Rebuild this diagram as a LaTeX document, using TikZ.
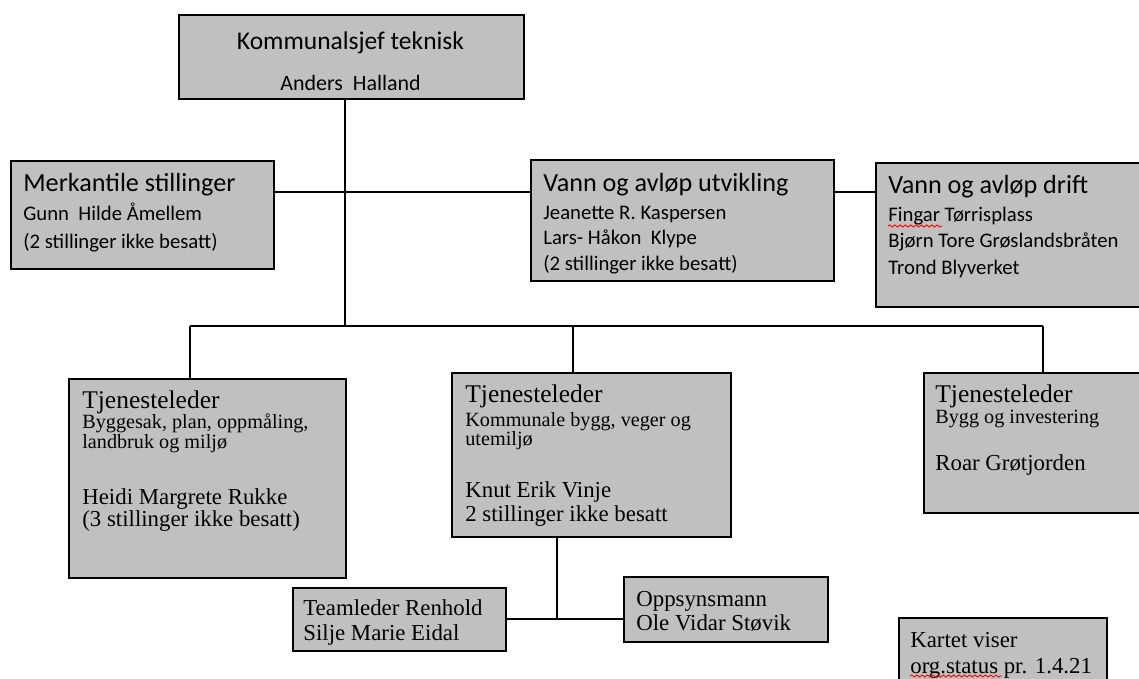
\documentclass[tikz,border=0pt]{standalone}
\usepackage{fontspec}
\setmainfont{Liberation Serif}
\setsansfont{Carlito}
\usetikzlibrary{decorations.pathmorphing}

\definecolor{boksgraa}{RGB}{192,192,192}

\newcommand\tittel[1]{{\fontsize{14.5}{14}\selectfont #1}}
\newcommand\overskrift[1]{{\fontsize{14.9}{14}\selectfont #1}}

\tikzset{
  enhet/.style={draw=black, line width=1.1pt, fill=boksgraa, anchor=north west, inner sep=0pt},
  linje/.style={line width=1.1pt},
  stavefeil/.style={red, line width=0.5pt, decorate, decoration={snake, amplitude=0.6pt, segment length=3pt}},
  sanstekst/.style={anchor=base west, align=left, inner sep=0pt, font={\sffamily\fontsize{11.8}{14.5}\selectfont\lineskiplimit=-20pt}},
  serieftekst/.style={anchor=base west, align=left, inner sep=0pt, font={\fontsize{11.5}{11.3}\selectfont\lineskiplimit=-20pt}},
  navntekst/.style={anchor=base west, align=left, inner sep=0pt, font={\fontsize{13}{13.5}\selectfont\lineskiplimit=-20pt}},
}

\begin{document}
\begin{tikzpicture}[x=0.02cm, y=-0.02cm]
        \clip (0,0) rectangle (1139,679);

        % boksene
        \node[enhet, minimum width=6.9cm, minimum height=1.68cm] (sjef) at (178,14) {};
        \node[enhet, minimum width=5.26cm, minimum height=2.16cm] (merk) at (10,160) {};
        \node[enhet, minimum width=6.06cm, minimum height=2.42cm] (vannutv) at (530,159) {};
        \node[enhet, minimum width=5.8cm, minimum height=2.88cm] (vanndrift) at (875,162) {};
        \node[enhet, minimum width=5.54cm, minimum height=3.98cm] (tj1) at (68,378) {};
        \node[enhet, minimum width=5.58cm, minimum height=3.28cm] (tj2) at (451,372) {};
        \node[enhet, minimum width=4.9cm, minimum height=2.8cm] (tj3) at (923,372) {};
        \node[enhet, minimum width=4.26cm, minimum height=1.26cm] (team) at (292,587) {};
        \node[enhet, minimum width=4.08cm, minimum height=1.3cm] (oppsyn) at (623,576) {};
        \node[enhet, minimum width=4.16cm, minimum height=1.8cm] (kartet) at (898,617) {};

        % tekst i boksene (ankret i siste linje)
        \node[sanstekst, anchor=base, align=center, font={\sffamily\fontsize{12.5}{14}\selectfont\lineskiplimit=-20pt}] (sjef-tekst) at (350.5,91) {{\fontsize{14.5}{14}\selectfont Kommunalsjef teknisk}\\[9.8pt] Anders\ \ Halland};
        \node[sanstekst, font={\sffamily\fontsize{11.8}{15.9}\selectfont\lineskiplimit=-20pt}] (merk-tekst) at (23,248.7) {\overskrift{Merkantile stillinger}\\[0.5pt] Gunn\ \ Hilde Åmellem\\ (2 stillinger ikke besatt)};
        \node[sanstekst] (vannutv-tekst) at (543,270) {\overskrift{Vann og avløp utvikling}\\[1.4pt] Jeanette R. Kaspersen\\ Lars- Håkon\ \ Klype\\ (2 stillinger ikke besatt)};
        \node[sanstekst, font={\sffamily\fontsize{11.8}{14.8}\selectfont\lineskiplimit=-20pt}] (vanndrift-tekst) at (888,274) {\overskrift{Vann og avløp drift}\\[1.2pt] Fingar Tørrisplass\\ Bjørn Tore Grøslandsbråten\\ Trond Blyverket};

        \node[serieftekst] (tj1-tekst) at (82,448) {\tittel{Tjenesteleder}\\ Byggesak, plan, oppmåling,\\ landbruk og miljø};
        \node[navntekst, font={\fontsize{13}{12.5}\selectfont\lineskiplimit=-20pt}] (tj1-navn) at (82,526) {Heidi Margrete Rukke\\ (3 stillinger ikke besatt)};
        \node[serieftekst, font={\fontsize{11.5}{10.8}\selectfont\lineskiplimit=-20pt}] (tj2-tekst) at (465,445) {\tittel{Tjenesteleder}\\[2.8pt] Kommunale bygg, veger og\\ utemiljø};
        \node[navntekst] (tj2-navn) at (465,521.3) {Knut Erik Vinje\\ 2 stillinger ikke besatt};
        \node[serieftekst, font={\fontsize{11.5}{12.2}\selectfont\lineskiplimit=-20pt}] (tj3-tekst) at (935,423.5) {\tittel{Tjenesteleder}\\ Bygg og investering};
        \node[navntekst] (tj3-navn) at (935,470) {Roar Grøtjorden};

        \node[navntekst, font={\fontsize{13}{14.2}\selectfont\lineskiplimit=-20pt}] (team-tekst) at (303,640) {Teamleder Renhold\\ Silje Marie Eidal};
        \node[navntekst, font={\fontsize{13}{13.6}\selectfont\lineskiplimit=-20pt}] (oppsyn-tekst) at (636,630) {Oppsynsmann\\ Ole Vidar Støvik};
        \node[navntekst, font={\fontsize{13}{14.7}\selectfont\lineskiplimit=-20pt}] (kartet-tekst) at (910,673) {Kartet viser\\ org.status pr. 1.4.21};

        % stavekontroll
        \draw[stavefeil] (888,226) -- (942,226);
        \draw[stavefeil] (910,676) -- (1002,676);

        % linjene
        \coordinate (tverr) at (345,192);
        \coordinate (stamme-v) at (190,326);
        \coordinate (stamme-h) at (1043,326);
        \coordinate (gren) at (573,326);
        \coordinate (knute) at (557,619);
        \draw[linje] (tverr |- sjef.south) -- (tverr |- stamme-v);
        \draw[linje] (tverr -| merk.east) -- (tverr -| vannutv.west);
        \draw[linje] (tverr -| vannutv.east) -- (tverr -| vanndrift.west);
        \draw[linje] (stamme-v) -- (stamme-h);
        \draw[linje] (stamme-v) -- (stamme-v |- tj1.north);
        \draw[linje] (gren) -- (gren |- tj2.north);
        \draw[linje] (stamme-h) -- (stamme-h |- tj3.north);
        \draw[linje] (knute |- tj2.south) -- (knute);
        \draw[linje] (team.east |- knute) -- (oppsyn.west |- knute);
    \end{tikzpicture}
\end{document}
